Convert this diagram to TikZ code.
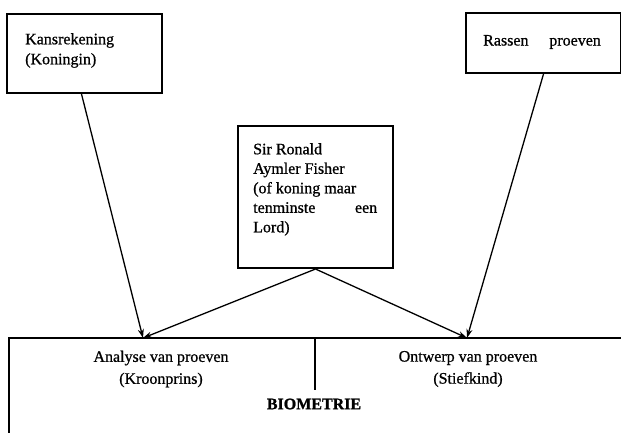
\documentclass[tikz,border=0pt]{standalone}
\usepackage{fontspec}
\setmainfont{Liberation Serif}[FakeBold=1.2]
\newfontfamily\heavyserif{Liberation Serif}[FakeBold=0.8]
\usetikzlibrary{arrows.meta}
\begin{document}
\begin{tikzpicture}[x=1pt,y=-1pt,
  box/.style={draw,line width=2pt,inner sep=0pt,anchor=north west},
  lbl/.style={inner sep=0pt,font=\heavyserif\fontsize{16}{20}\selectfont},
  conn/.style={line width=1.3pt,-{Stealth[length=9pt,width=6pt]}},
  edge/.style={line width=1.4pt}]
\useasboundingbox (0,0) rectangle (621,433);
% boxes
\node[box,minimum width=155pt,minimum height=79pt] (k) at (6,13) {};
\node[box,minimum width=155pt,minimum height=60pt] (r) at (465,12) {};
\node[box,minimum width=155pt,minimum height=142pt] (f) at (237,125) {};
% box texts
\node[lbl,anchor=north west,align=left] (kt) at (25,33) {Kansrekening\\(Koningin)};
\node[lbl,anchor=west] (rt) at (483,42) {Rassen\hspace{1.3em}proeven};
\node[lbl,anchor=north west,align=left,font=\heavyserif\fontsize{16}{19.5}\selectfont] (ft) at (253,143)
  {Sir Ronald\\Aymler Fisher\\(of koning maar\\\hbox to 124pt{tenminste\hfill een}\\Lord)};
% bottom structure
\coordinate (tl) at (9,338);
\coordinate (tr) at (621,338);
\coordinate (bl) at (9,433);
\coordinate (dt) at (315,338);
\coordinate (db) at (315,390);
\draw[edge] (bl) -- (tl) -- (tr);
\draw[edge] (dt) -- (db);
\coordinate (aL) at (143,338);
\coordinate (aR) at (467,338);
% labels
\node[lbl,align=center,font=\heavyserif\fontsize{16}{22}\selectfont] (an) at (161,369) {Analyse van proeven\\(Kroonprins)};
\node[lbl,align=center,font=\heavyserif\fontsize{16}{22}\selectfont] (on) at (468,369) {Ontwerp van proeven\\(Stiefkind)};
\node[lbl,font=\bfseries\fontsize{16}{20}\selectfont] (bio) at (314,404) {BIOMETRIE};
% connectors
\draw[conn] ([xshift=-3pt]k.south) -- (aL);
\draw[conn] (r.south) -- (aR);
\draw[conn] (f.south) -- (aL);
\draw[conn] (f.south) -- (aR);
\end{tikzpicture}
\end{document}
